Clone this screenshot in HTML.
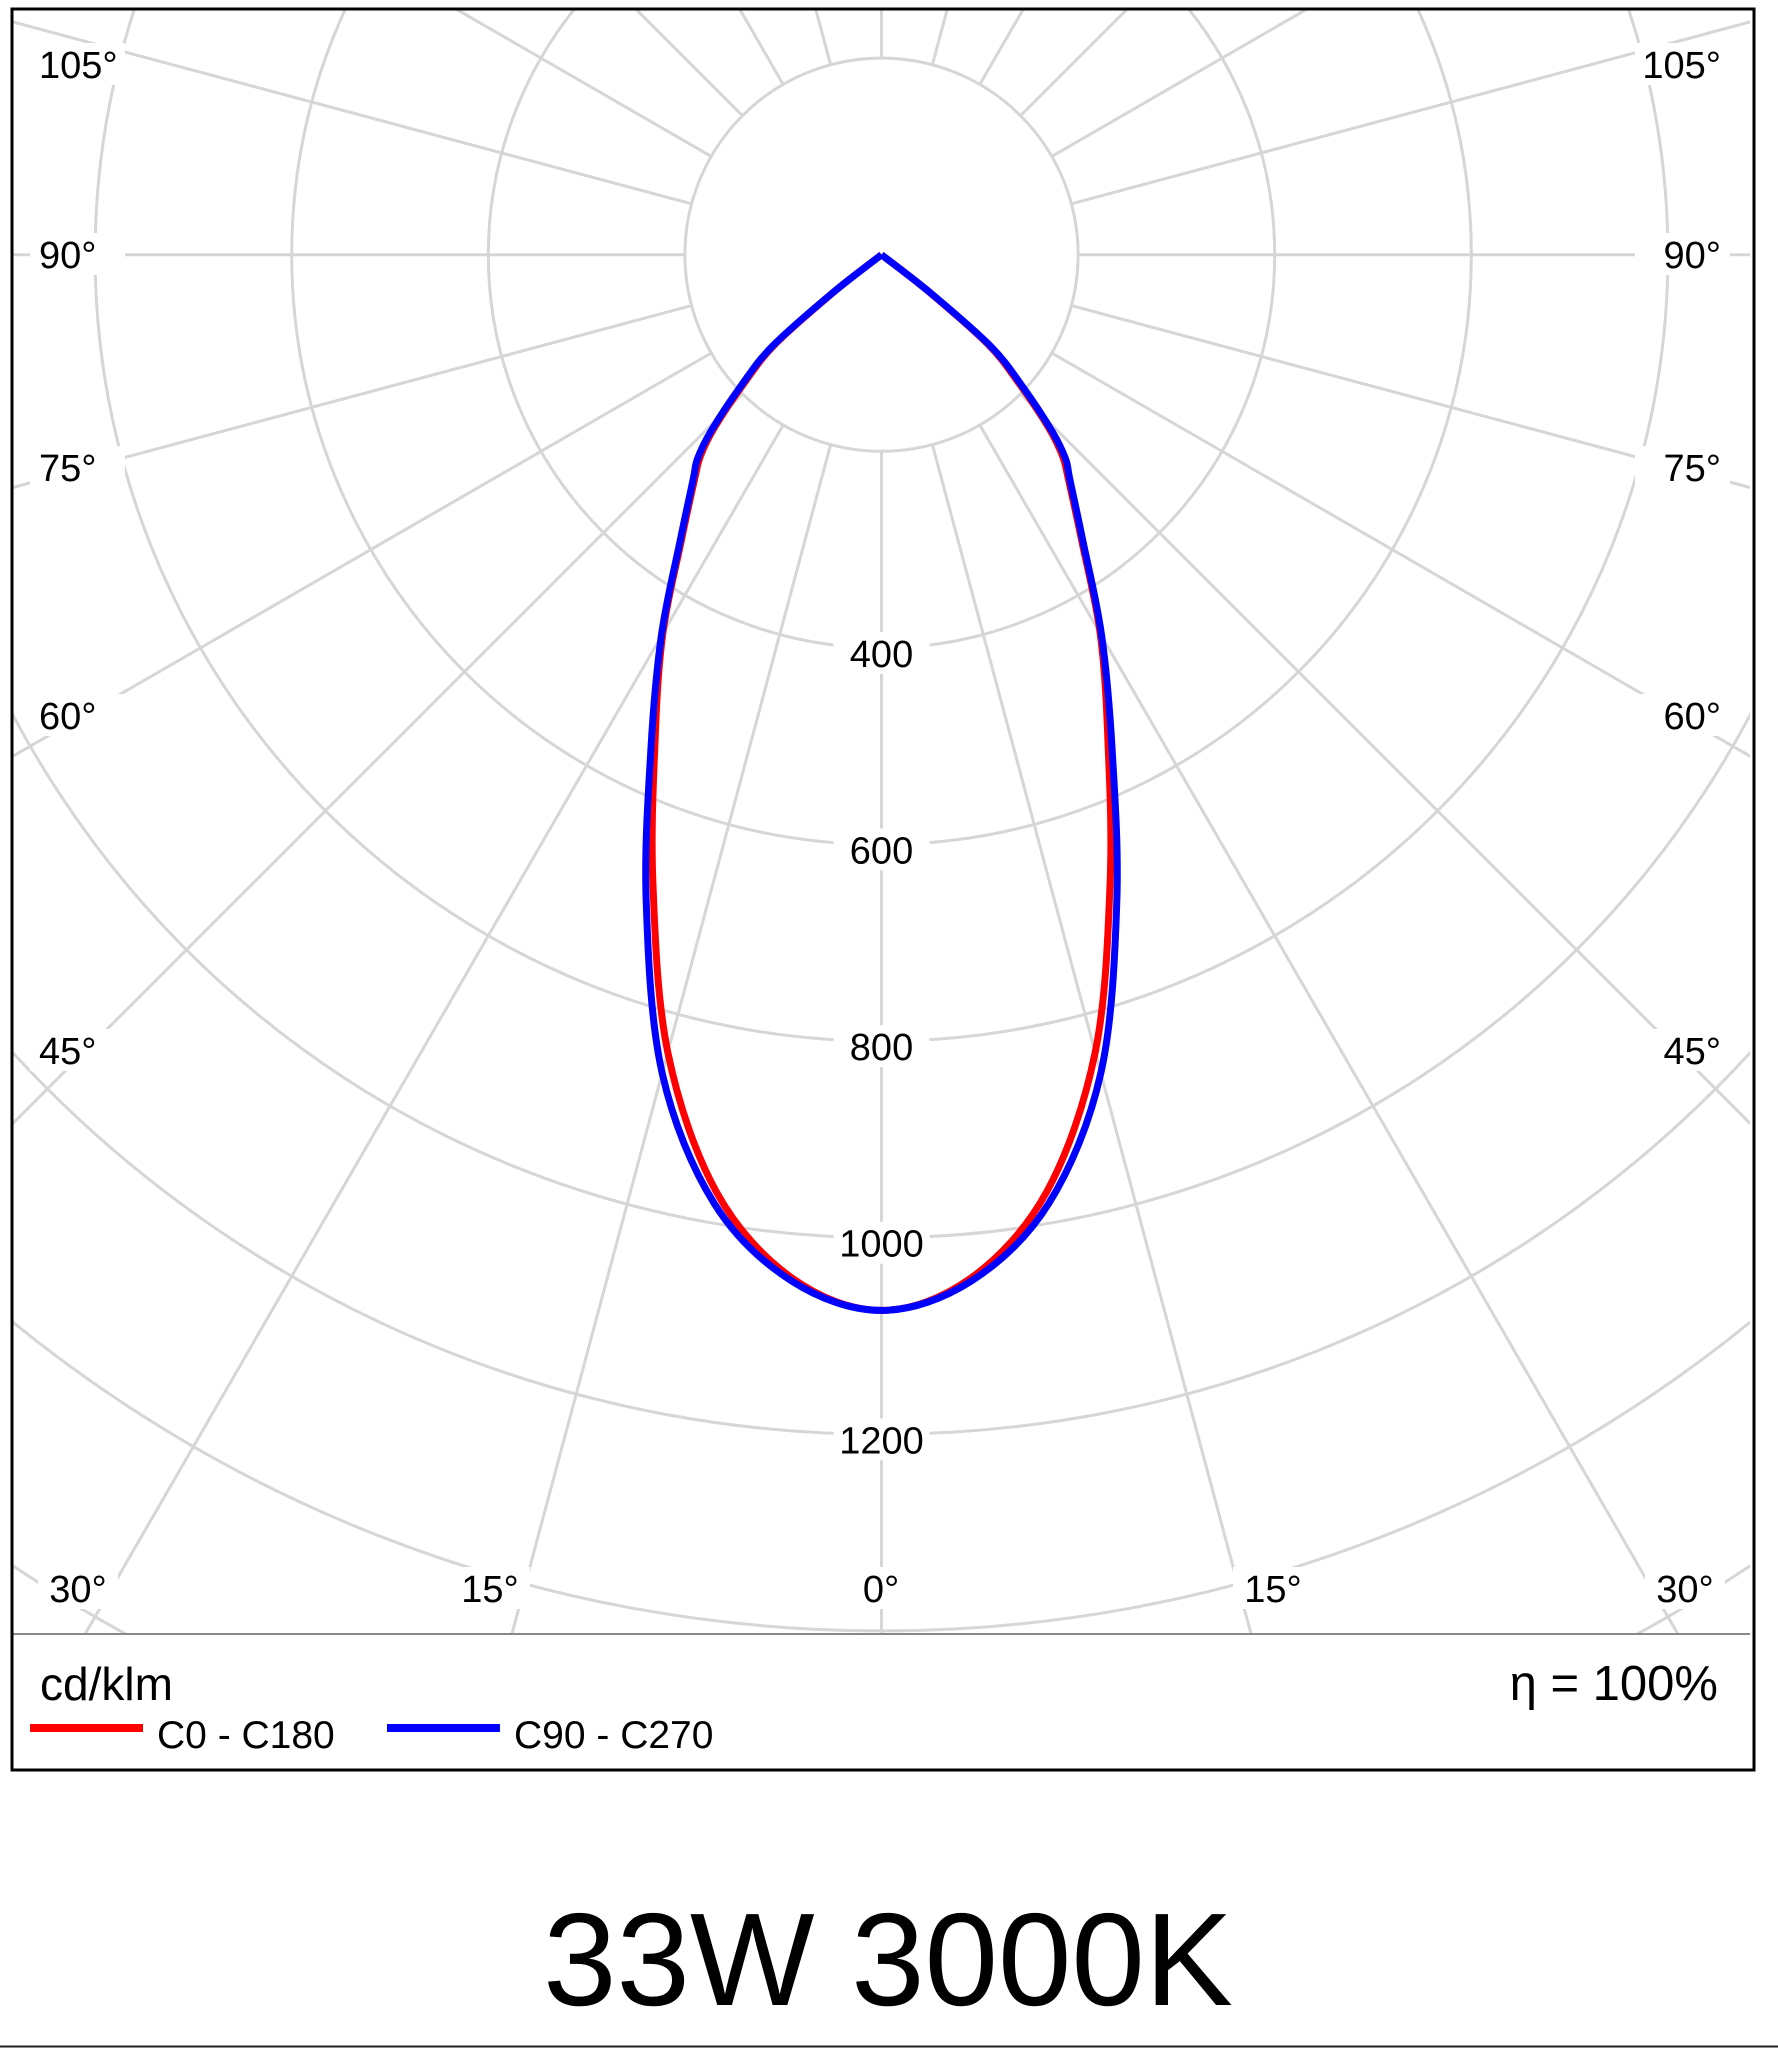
<!DOCTYPE html>
<html><head><meta charset="utf-8"><style>
html,body{margin:0;padding:0;background:#fff;overflow:hidden;width:1778px;height:2048px;}
svg{display:block;font-family:"Liberation Sans",Arial,sans-serif;}
</style></head><body>
<svg id="chart" width="1778" height="2048" viewBox="0 0 1778 2048" xmlns="http://www.w3.org/2000/svg">
<defs><clipPath id="plotClip"><rect x="13" y="10" width="1737" height="1624"/></clipPath></defs>
<rect x="0" y="0" width="1778" height="2048" fill="#fff"/>
<g id="grid" clip-path="url(#plotClip)"></g>
<g id="curves" clip-path="url(#plotClip)"></g>
<g id="labels"></g>
<line x1="13" y1="1634" x2="1750" y2="1634" stroke="#888" stroke-width="2"/>
<rect x="12" y="9" width="1742" height="1761" fill="none" stroke="#000" stroke-width="3"/>
<text x="40" y="1700" font-size="46">cd/klm</text>
<text x="1718" y="1700" font-size="49" text-anchor="end">η = 100%</text>
<line x1="30" y1="1728" x2="143" y2="1728" stroke="#f00" stroke-width="8"/>
<text x="157" y="1748" font-size="39">C0 - C180</text>
<line x1="387" y1="1728" x2="500" y2="1728" stroke="#00f" stroke-width="8"/>
<text x="514" y="1748" font-size="39">C90 - C270</text>
<text x="888" y="2005" font-size="132" text-anchor="middle">33W 3000K</text>
<line x1="0" y1="2046.5" x2="1778" y2="2046.5" stroke="#222" stroke-width="2"/>
</svg>
<script>
const angles = [0,5,10,15,20,25,30,35,40,42,44,47,50,52,55];
const c0c180 = [1074,1045,968,840,680,545,445,355,295,275,245,190,140,60,0];
const c90c270 = [1074,1048,980,862,700,555,448,358,298,280,250,195,145,65,0];
const ringValues = [200,400,600,800,1000,1200,1400,1600];
const ringLabels = ["400","600","800","1000","1200"];
const spokeAngles = [0,15,30,45,60,75,90,105,120,135,150,165,180];
const sideAngleLabels = ["105°","90°","75°","60°","45°"];
const sideAngleY = [65,255,468,716,1051];
const bottomAngleLabels = ["30°","15°","0°","15°","30°"];
const bottomAngleX = [78,490,881,1273,1685];

const NS = "http://www.w3.org/2000/svg";
const cx = 881.5, cy = 254.7, k = 0.983;
function rScale(v){ return v * k; }
function pt(angleDeg, v, side){
  const a = angleDeg * Math.PI / 180, r = rScale(v);
  return [cx + side * r * Math.sin(a), cy + r * Math.cos(a)];
}
function mk(tag, attrs, parent){
  const el = document.createElementNS(NS, tag);
  for (const key in attrs) el.setAttribute(key, attrs[key]);
  parent.appendChild(el);
  return el;
}
const grid = document.getElementById('grid');
ringValues.forEach(v => {
  const c = mk('circle', {cx: cx, cy: cy, r: rScale(v), fill: 'none', stroke: '#d6d6d6', 'stroke-width': 3}, grid);
  
  
});
spokeAngles.forEach(a => {
  [1, -1].forEach(s => {
    const p1 = pt(a, 200, s), p2 = pt(a, 2200, s);
    const l = mk('line', {x1: p1[0], y1: p1[1], x2: p2[0], y2: p2[1], stroke: '#d6d6d6', 'stroke-width': 3}, grid);
    
    
  });
});
const curves = document.getElementById('curves');
function smoothPath(pts){
  let d = 'M' + pts[0][0].toFixed(1) + ',' + pts[0][1].toFixed(1);
  for (let i = 0; i < pts.length - 1; i++) {
    const p0 = pts[Math.max(0, i - 1)], p1 = pts[i], p2 = pts[i + 1], p3 = pts[Math.min(pts.length - 1, i + 2)];
    const c1 = [p1[0] + (p2[0] - p0[0]) / 6, p1[1] + (p2[1] - p0[1]) / 6];
    const c2 = [p2[0] - (p3[0] - p1[0]) / 6, p2[1] - (p3[1] - p1[1]) / 6];
    d += ' C' + c1[0].toFixed(1) + ',' + c1[1].toFixed(1) + ' ' + c2[0].toFixed(1) + ',' + c2[1].toFixed(1) + ' ' + p2[0].toFixed(1) + ',' + p2[1].toFixed(1);
  }
  return d;
}
function drawCurve(vals, color, name){
  const pts = [];
  for (let i = angles.length - 1; i >= 0; i--) pts.push(pt(angles[i], vals[i], -1));
  for (let i = 1; i < angles.length; i++) pts.push(pt(angles[i], vals[i], 1));
  const p = mk('path', {d: smoothPath(pts), fill: 'none', stroke: color, 'stroke-width': 7, 'stroke-linejoin': 'round'}, curves);
  
  
}
drawCurve(c0c180, '#ff0000', 'curve-c0-c180');
drawCurve(c90c270, '#0000ff', 'curve-c90-c270');

const labels = document.getElementById('labels');
ringLabels.forEach(t => {
  const v = parseFloat(t);
  const y = cy + rScale(v) + 6;
  const bg = mk('rect', {x: cx - 48, y: y - 22, width: 96, height: 42, fill: '#fff'}, labels);
  
  
  const tx = mk('text', {x: cx, y: y + 13, 'font-size': 38, 'text-anchor': 'middle'}, labels);
  tx.textContent = t;
  
  
});
sideAngleLabels.forEach((t, i) => {
  const yy = sideAngleY[i];
  [[39, 'start', 'left'], [1721, 'end', 'right']].forEach(cfg => {
    const bg = mk('rect', {x: cfg[1] === 'start' ? 30 : 1635, y: yy - 22, width: 95, height: 42, fill: '#fff'}, labels);
    
    
    const tx = mk('text', {x: cfg[0], y: yy + 13, 'font-size': 38, 'text-anchor': cfg[1]}, labels);
    tx.textContent = t;
    
    
  });
});
bottomAngleLabels.forEach((t, i) => {
  const x = bottomAngleX[i];
  const bg = mk('rect', {x: x - 40, y: 1567, width: 80, height: 42, fill: '#fff'}, labels);
  
  
  const tx = mk('text', {x: x, y: 1602, 'font-size': 38, 'text-anchor': 'middle'}, labels);
  tx.textContent = t;
  
  
});
</script>
</body></html>
